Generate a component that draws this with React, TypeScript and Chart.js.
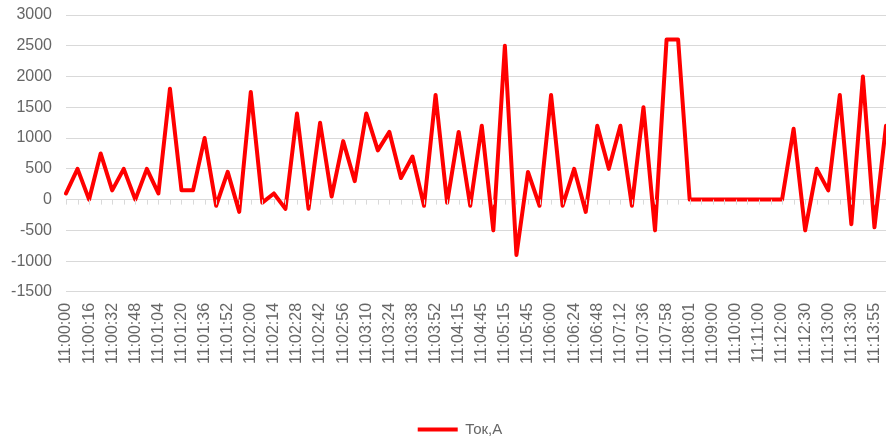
import React, { useEffect, useRef } from "react";
import { Chart, registerables } from "chart.js";

Chart.register(...registerables);

const categories: string[] = [
  "11:00:00", "11:00:08", "11:00:16", "11:00:24", "11:00:32", "11:00:40", "11:00:48", "11:00:56",
  "11:01:04", "11:01:12", "11:01:20", "11:01:28", "11:01:36", "11:01:44", "11:01:52", "11:01:56",
  "11:02:00", "11:02:07", "11:02:14", "11:02:21", "11:02:28", "11:02:35", "11:02:42", "11:02:49",
  "11:02:56", "11:03:03", "11:03:10", "11:03:17", "11:03:24", "11:03:31", "11:03:38", "11:03:45",
  "11:03:52", "11:04:00", "11:04:15", "11:04:30", "11:04:45", "11:05:00", "11:05:15", "11:05:30",
  "11:05:45", "11:05:52", "11:06:00", "11:06:12", "11:06:24", "11:06:36", "11:06:48", "11:07:00",
  "11:07:12", "11:07:24", "11:07:36", "11:07:47", "11:07:58", "11:07:59", "11:08:01", "11:08:30",
  "11:09:00", "11:09:30", "11:10:00", "11:10:30", "11:11:00", "11:11:30", "11:12:00", "11:12:15",
  "11:12:30", "11:12:45", "11:13:00", "11:13:15", "11:13:30", "11:13:45", "11:13:55", "11:14:05",
];

const currentA: number[] = [
  100, 500, 0, 750, 150, 500, 0, 500, 100, 1800, 150, 150, 1000, -100, 450, -200,
  1750, -50, 100, -150, 1400, -150, 1250, 50, 950, 300, 1400, 800, 1100, 350, 700, -100,
  1700, -50, 1100, -100, 1200, -500, 2500, -900, 450, -100, 1700, -100, 500, -200, 1200, 500,
  1200, -100, 1500, -500, 2600, 2600, 0, 0, 0, 0, 0, 0, 0, 0, 0, 1150, -500, 500,
  150, 1700, -400, 2000, -450, 1200,
];

const seriesName = "Ток,А";
const yMin = -1500;
const yMax = 3000;
const yStep = 500;

const FONT = "'Liberation Sans', Arial, sans-serif";
const GREY = "#666666";
const GRID = "#d9d9d9";

const zeroTicks = {
  id: "zeroTicks",
  afterDatasetsDraw(chart: any) {
    const x = chart.scales.x;
    const y = chart.scales.y;
    const y0 = y.getPixelForValue(0);
    const ctx = chart.ctx;
    ctx.save();
    ctx.strokeStyle = GRID;
    ctx.lineWidth = 1;
    ctx.beginPath();
    for (let i = 0; i < categories.length; i++) {
      const px = Math.round(x.getPixelForValue(i)) + 0.5;
      ctx.moveTo(px, y0);
      ctx.lineTo(px, y0 + 5);
    }
    ctx.stroke();
    ctx.restore();
  },
};

const legendShift = {
  id: "legendShift",
  afterLayout(chart: any) {
    if (chart.legend) chart.legend.left += 24;
  },
};

export default function App() {
  const ref = useRef<HTMLCanvasElement | null>(null);

  useEffect(() => {
    if (!ref.current) return;
    const chart = new Chart(ref.current, {
      type: "line",
      data: {
        labels: categories,
        datasets: [
          {
            label: seriesName,
            data: currentA,
            borderColor: "#ff0000",
            backgroundColor: "#ff0000",
            borderWidth: 4,
            pointRadius: 0,
            tension: 0,
            borderJoinStyle: "round",
            borderCapStyle: "round",
          },
        ],
      },
      options: {
        animation: false,
        responsive: false,
        layout: { padding: { left: 10, top: 15, right: 0, bottom: -9 } },
        plugins: {
          tooltip: { enabled: false },
          legend: {
            position: "bottom",
            labels: {
              usePointStyle: true,
              pointStyle: "line",
              pointStyleWidth: 40,
              padding: 47,
              color: GREY,
              font: { family: FONT, size: 15 },
            },
          },
        },
        scales: {
          x: {
            offset: false,
            border: { display: false },
            grid: { display: false, drawTicks: false },
            afterFit: (scale: any) => {
              scale.paddingRight = 0;
              scale.paddingLeft = 0;
            },
            ticks: {
              autoSkip: false,
              minRotation: 90,
              maxRotation: 90,
              padding: 11,
              color: GREY,
              font: { family: FONT, size: 16 },
              callback: (_v: any, i: number) => (i % 2 === 0 ? categories[i] : ""),
            },
          },
          y: {
            min: yMin,
            max: yMax,
            border: { display: false },
            grid: { color: GRID, lineWidth: 1, drawTicks: false },
            afterFit: (scale: any) => {
              scale.paddingTop = 0;
              scale.width = 56;
            },
            ticks: {
              stepSize: yStep,
              padding: 14,
              color: GREY,
              font: { family: FONT, size: 16 },
              callback: (v: any) => String(v),
            },
          },
        },
      },
      plugins: [zeroTicks, legendShift],
    });
    return () => chart.destroy();
  }, []);

  return (
    <div style={{ position: "fixed", left: 0, top: 0, width: 886, height: 438, background: "#fff" }}>
      <canvas ref={ref} width={886} height={438} style={{ display: "block" }} />
    </div>
  );
}
